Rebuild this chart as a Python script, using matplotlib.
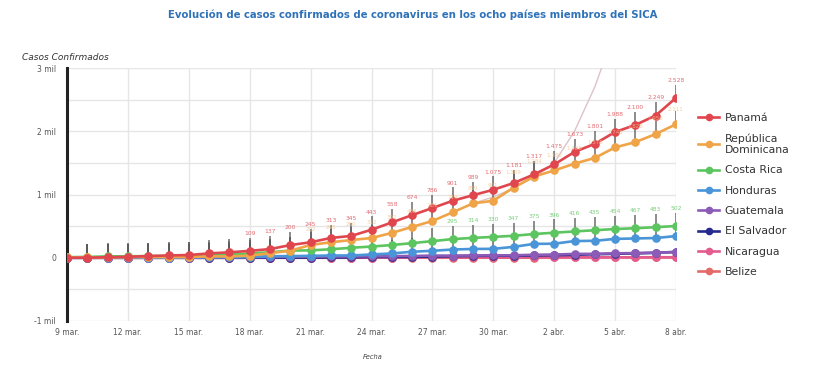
import matplotlib
matplotlib.use("Agg")
import matplotlib.pyplot as plt
from matplotlib.lines import Line2D

# ---------------- data ----------------
dates = ["9 mar.", "10 mar.", "11 mar.", "12 mar.", "13 mar.", "14 mar.", "15 mar.", "16 mar.",
         "17 mar.", "18 mar.", "19 mar.", "20 mar.", "21 mar.", "22 mar.", "23 mar.", "24 mar.",
         "25 mar.", "26 mar.", "27 mar.", "28 mar.", "29 mar.", "30 mar.", "31 mar.", "1 abr.",
         "2 abr.", "3 abr.", "4 abr.", "5 abr.", "6 abr.", "7 abr.", "8 abr."]

panama = [0, 1, 8, 14, 27, 36, 43, 69, 86, 109, 137, 200, 245, 313, 345, 443, 558, 674, 786,
          901, 989, 1075, 1181, 1317, 1475, 1673, 1801, 1988, 2100, 2249, 2528]
rep_dominicana = [5, 5, 5, 11, 11, 11, 11, 21, 21, 34, 72, 112, 202, 245, 280, 312, 392, 488,
                  581, 719, 859, 901, 1109, 1284, 1380, 1488, 1578, 1745, 1828, 1956, 2111]
costa_rica = [9, 13, 22, 23, 26, 27, 35, 41, 50, 69, 87, 113, 117, 134, 158, 177, 201, 231,
              263, 295, 314, 330, 347, 375, 396, 416, 435, 454, 467, 483, 502]
honduras = [0, 0, 2, 2, 3, 3, 6, 8, 9, 12, 24, 26, 30, 36, 36, 52, 68, 95, 110, 130, 139,
            141, 172, 219, 222, 264, 268, 298, 305, 312, 343]
guatemala = [0, 0, 0, 0, 1, 1, 2, 6, 6, 9, 12, 17, 19, 20, 21, 24, 25, 28, 34, 34, 36, 38,
             39, 47, 50, 61, 61, 70, 74, 81, 87]
el_salvador = [0, 0, 0, 0, 0, 0, 0, 0, 0, 1, 1, 3, 3, 5, 5, 13, 13, 13, 19, 24, 30, 32, 32,
               36, 41, 46, 56, 62, 69, 78, 93]
nicaragua = [0, 0, 0, 0, 0, 0, 0, 0, 0, 1, 1, 2, 2, 2, 2, 2, 2, 4, 4, 4, 4, 4, 4, 5, 5, 6,
             6, 6, 6, 6, 6]
belize = [0, 0, 0, 0, 0, 0, 0, 0, 0, 0, 0, 0, 0, 0, 1, 2, 2, 2, 3, 3, 3, 3, 3, 3, 4, 7, 7,
          7, 7, 8, 8]
# faint trend curve visible in the background (starts 29 mar.)
trend_start = 20
trend = [860, 960, 1100, 1270, 1500, 2000, 2700, 3600]

series_names = ["Panamá", "República\nDominicana", "Costa Rica", "Honduras", "Guatemala",
                "El Salvador", "Nicaragua", "Belize"]
series_values = [panama, rep_dominicana, costa_rica, honduras, guatemala, el_salvador,
                 nicaragua, belize]
series_colors = ["#e0464e", "#f0a448", "#5cc560", "#4a95d8", "#8c5bb8", "#262a8c",
                 "#e45b8e", "#e36a6a"]

ytick_vals = [-1000, 0, 1000, 2000, 3000]
ytick_labels = ["-1 mil", "0", "1 mil", "2 mil", "3 mil"]

# ---------------- figure ----------------
fig = plt.figure(figsize=(8.25, 3.68), dpi=100)
ax = fig.add_axes([67 / 825, 1 - 321 / 368, (676 - 67) / 825, (321 - 68) / 368])

x = list(range(len(dates)))

def fmt(v):
    return f"{v:,}".replace(",", ".")

# trend curve
ax.plot(range(trend_start, trend_start + len(trend)), trend, color="#dcc3c8", lw=1.0, zorder=1)

# vertical leader ticks above points
tick_len = 210
for vals in series_values[:4]:
    ax.vlines(x, vals, [v + tick_len for v in vals], colors="#5a5a5a", lw=1.3, alpha=0.75,
              zorder=2)

# lines (draw bottom series first so Panamá on top)
for name, vals, col in list(zip(series_names, series_values, series_colors))[::-1]:
    ax.plot(x, vals, color=col, lw=1.9, marker="o", markersize=6.2, markeredgewidth=0,
            zorder=3, label=name)

# data labels
for i, v in enumerate(panama):
    if i >= 9:
        ax.text(i, v + tick_len + 30, fmt(v), fontsize=4.3, color="#e36c72", ha="center",
                va="bottom", zorder=4)
for i, v in enumerate(costa_rica):
    if i >= 19:
        ax.text(i, v + tick_len + 30, fmt(v), fontsize=4.3, color="#7ccf7f", ha="center",
                va="bottom", zorder=4)
for i, v in enumerate(rep_dominicana):
    if i >= 12:
        ax.text(i, v + tick_len - 10, fmt(v), fontsize=4.0, color="#f3c48a", ha="center",
                va="bottom", zorder=4, alpha=0.8)

ax.set_xlim(0, 30)
ax.set_ylim(-1000, 3000)
ax.set_xticks(x[::3])
ax.set_xticklabels(dates[::3])
ax.set_yticks(ytick_vals)
ax.set_yticklabels(ytick_labels)
ax.set_yticks([-500, 500, 1500, 2500], minor=True)
ax.grid(True, which="both", color="#e6e6e6", lw=1.0, zorder=0)
ax.set_axisbelow(True)
ax.tick_params(axis="both", which="both", length=0, labelsize=5.5, labelcolor="#555555")
ax.tick_params(axis="x", pad=5)
ax.tick_params(axis="y", pad=8)
for s in ["top", "right", "bottom"]:
    ax.spines[s].set_visible(False)
ax.spines["left"].set_color("#222222")
ax.spines["left"].set_linewidth(2.2)

# titles
fig.text(0.5, 1 - 15 / 368, "Evolución de casos confirmados de coronavirus en los ocho países miembros del SICA",
         ha="center", va="center", fontsize=7.3, fontweight="bold", color="#2f72b8")
fig.text(22 / 825, 1 - 57 / 368, "Casos Confirmados", ha="left", va="center", fontsize=6.5,
         style="italic", color="#333333")
fig.text(373 / 825, 1 - 357 / 368, "Fecha", ha="center", va="center", fontsize=4.8,
         style="italic", color="#444444")

# legend
handles = [Line2D([0], [0], color=c, lw=1.9, marker="o", markersize=5.5, markeredgewidth=0)
           for c in series_colors]
fig.legend(handles, series_names, loc="upper left", bbox_to_anchor=(688 / 825, 1 - 103 / 368),
           frameon=False, fontsize=7.8, labelspacing=0.95, handlelength=2.0, handletextpad=0.5,
           labelcolor="#333333")

fig.savefig("out.png", dpi=100)
